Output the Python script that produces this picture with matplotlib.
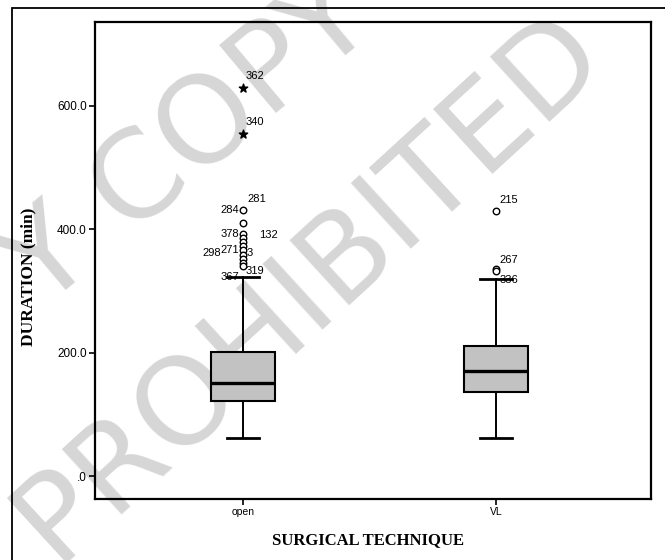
import matplotlib
matplotlib.use("Agg")
import matplotlib.pyplot as plt
from matplotlib.patches import Rectangle

# box summary values (minutes)
groups = ["open", "VL"]
medians = [151, 170]
q1s = [122, 136]
q3s = [201, 211]
whis_lo = [62, 62]
whis_hi = [322, 320]

open_circles = [431, 411, 393, 386, 380, 373, 366, 359, 352, 346, 340]
open_stars = [629, 555]
vl_circles = [430, 336, 333]

# outlier case numbers: text, group index, value they sit next to, pixel offset, alignment
case_text = ["362", "340", "281", "284", "378", "132", "298", "271", "3", "367", "319",
             "215", "267", "336"]
case_group = [0, 0, 0, 0, 0, 0, 0, 0, 0, 0, 0, 1, 1, 1]
case_value = [629, 555, 431, 431, 393, 393, 366, 366, 366, 322, 322, 430, 336, 320]
case_dx = [3, 3, 4, -4, -4, 16, -22, -4, 4, -4, 3, 4, 4, 4]
case_dy = [12, 12, 11, 0, 0, -1, -3, 0, -3, 0, 6, 11, 9, -1]
case_ha = ["left", "left", "left", "right", "right", "left", "right", "right", "left",
           "right", "left", "left", "left", "left"]

fig = plt.figure(figsize=(6.65, 5.6), dpi=100)

# faint watermark behind the chart
wm = dict(color="#d6d6d6", fontsize=88, family="DejaVu Sans",
          ha="center", va="center", zorder=-5)
fig.text(0.285, 0.745, "Y COPY", rotation=40, **wm)
fig.text(0.465, 0.49, "PROHIBITED", rotation=42.5, **wm)

ax = fig.add_axes([95 / 665, 61 / 560, 556 / 665, 477 / 560])
ax.patch.set_alpha(0)

stats = []
for i, g in enumerate(groups):
    stats.append(dict(label=g, med=medians[i], q1=q1s[i], q3=q3s[i],
                      whislo=whis_lo[i], whishi=whis_hi[i], fliers=[]))

ax.bxp(stats, positions=[1, 2], widths=0.253, capwidths=0.125, patch_artist=True,
       showfliers=False,
       boxprops=dict(facecolor="#c2c2c2", edgecolor="black", linewidth=1.5),
       medianprops=dict(color="black", linewidth=2.4),
       whiskerprops=dict(color="black", linewidth=1.4),
       capprops=dict(color="black", linewidth=2.0))

ax.scatter([1] * len(open_circles), open_circles, s=22, facecolors="white",
           edgecolors="black", linewidths=1.0, zorder=3)
ax.scatter([2] * len(vl_circles), vl_circles, s=22, facecolors="white",
           edgecolors="black", linewidths=1.0, zorder=3)
ax.scatter([1] * len(open_stars), open_stars, marker="*", s=40, color="black", zorder=3)

for t, g, v, dx, dy, ha in zip(case_text, case_group, case_value, case_dx, case_dy, case_ha):
    ax.annotate(t, (g + 1, v), xytext=(dx, dy), textcoords="offset pixels",
                ha=ha, va="center", fontsize=8, family="Liberation Sans")

ax.set_xlim(0.415, 2.613)
ax.set_ylim(-37, 736)
ax.set_yticks([0, 200, 400, 600])
ax.set_yticklabels([".0", "200.0", "400.0", "600.0"])
ax.set_xticks([1, 2])
ax.set_xticklabels(groups)
ax.tick_params(axis="both", direction="out", length=4, width=1.2, pad=2)
for lab in ax.get_yticklabels():
    lab.set_family("Liberation Sans")
    lab.set_fontsize(8.5)
for lab in ax.get_xticklabels():
    lab.set_family("Liberation Sans")
    lab.set_fontsize(7.5)
for s in ax.spines.values():
    s.set_linewidth(1.6)

fig.text(28 / 665, 1 - 277 / 560, "DURATION (min)", rotation=90, ha="center", va="center",
         fontsize=12.5, fontweight="bold", family="Liberation Serif")
fig.text(368 / 665, 1 - 540 / 560, "SURGICAL TECHNIQUE", ha="center", va="center",
         fontsize=12, fontweight="bold", family="Liberation Serif")

# outer frame of the original figure
fig.patches.append(Rectangle((12 / 665, -0.1), 1.2, 1.1 - 8 / 560, transform=fig.transFigure,
                             fill=False, edgecolor="black", linewidth=1.3))

fig.savefig("out.png", dpi=100)
